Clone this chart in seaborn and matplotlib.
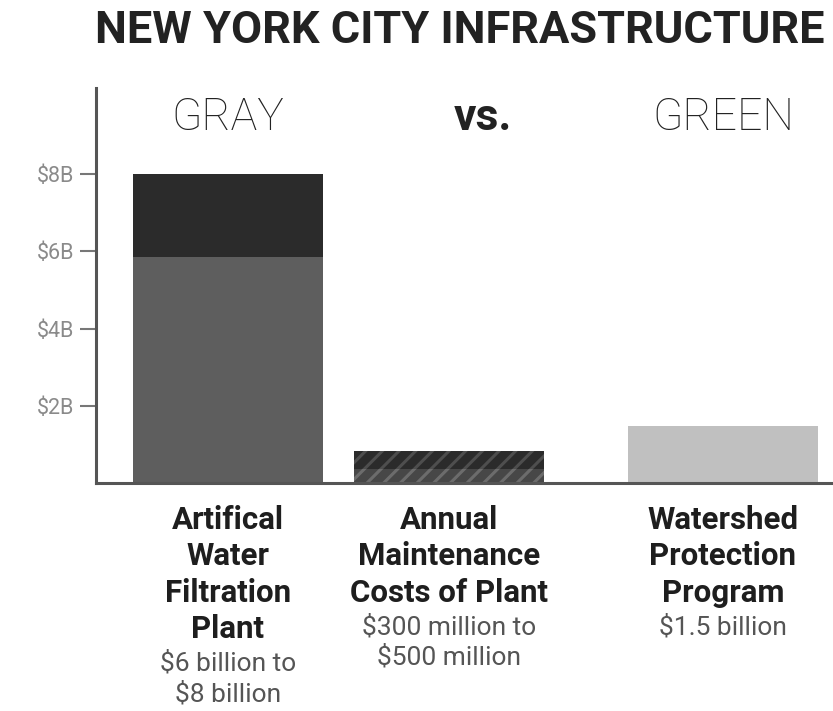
import pandas as pd
import seaborn as sns
import matplotlib.pyplot as plt
import matplotlib.transforms as mtransforms

# values in billions of dollars
categories = ["Artifical\nWater\nFiltration\nPlant",
              "Annual\nMaintenance\nCosts of Plant",
              "Watershed\nProtection\nProgram"]
low_values = [5.85, 0.35, 1.48]
high_values = [8.0, 0.83, 1.48]
subtitles = ["$6 billion to\n$8 billion", "$300 million to\n$500 million", "$1.5 billion"]
tick_values = [2, 4, 6, 8]
tick_labels = ["$2B", "$4B", "$6B", "$8B"]
headers = ["GRAY", "vs.", "GREEN"]

# layout (bar centres are not evenly spaced in the original)
xpos = [0, 1, 2.24]
top_colors = ["#2b2b2b", "#2b2b2b", "#c0c0c0"]
low_colors = ["#5e5e5e", "#474747", "#c0c0c0"]

sns.set_style("white")
plt.rcParams["font.family"] = ["Roboto", "DejaVu Sans"]
plt.rcParams["hatch.linewidth"] = 2.2

df = pd.DataFrame({"x": xpos, "name": categories, "low": low_values, "high": high_values})

fig = plt.figure(figsize=(8.33, 7.11), dpi=100)
ax = fig.add_axes([96 / 833, 1 - 483 / 711, 1 - 96 / 833, 395 / 711])

sns.barplot(data=df, x="x", y="high", hue="name", palette=top_colors, native_scale=True,
            width=0.86, legend=False, ax=ax, saturation=1, linewidth=0)
sns.barplot(data=df, x="x", y="low", hue="name", palette=low_colors, native_scale=True,
            width=0.86, legend=False, ax=ax, saturation=1, linewidth=0)

# diagonal stripes over the maintenance bar
maint = df.iloc[[1]]
sns.barplot(data=maint, x="x", y="high", native_scale=True, width=0.86, ax=ax,
            fill=False, color="#4e4e4e", hatch="//", linewidth=0)
sns.barplot(data=maint, x="x", y="low", native_scale=True, width=0.86, ax=ax,
            fill=False, color="#6c6c6c", hatch="//", linewidth=0)

ax.set_xlim(-0.597, 2.738)
ax.set_ylim(0, 10.23)
ax.set_xticks([])
ax.set_yticks(tick_values, tick_labels)
ax.set_xlabel("")
ax.set_ylabel("")
ax.tick_params(axis="y", length=11.5, width=1.5, color="#777777", labelsize=15.5,
               labelcolor="#8a8a8a", pad=4, left=True)

sns.despine(ax=ax)
for side in ["left", "bottom"]:
    ax.spines[side].set_color("#555555")
    ax.spines[side].set_linewidth(2.2)

# GRAY vs. GREEN headers
weights = ["light", "bold", "light"]
for x, h, w in zip(xpos, headers, weights):
    ax.text(x + (0.155 if h == "vs." else 0.0), 9.15, h, ha="center", va="baseline",
            fontsize=32, fontweight=w, color="#222222")

# category labels with their ranges underneath
trans = mtransforms.blended_transform_factory(ax.transData, fig.transFigure)
for x, name, sub in zip(xpos, categories, subtitles):
    t = fig.text(x, 1 - 505 / 711, name, transform=trans, ha="center", va="top",
                 fontsize=22.5, fontweight="bold", color="#1e1e1e", linespacing=1.27)
    ax.annotate(sub, xy=(0.5, 0), xycoords=t, xytext=(0, -5), textcoords="offset points",
                ha="center", va="top", fontsize=19, color="#555555", linespacing=1.3,
                annotation_clip=False)

fig.text(0.5516, 1 - 43 / 711, "NEW YORK CITY INFRASTRUCTURE", ha="center", va="baseline",
         fontsize=32.5, fontweight="bold", color="#222222")

fig.savefig("out.png", dpi=100)
